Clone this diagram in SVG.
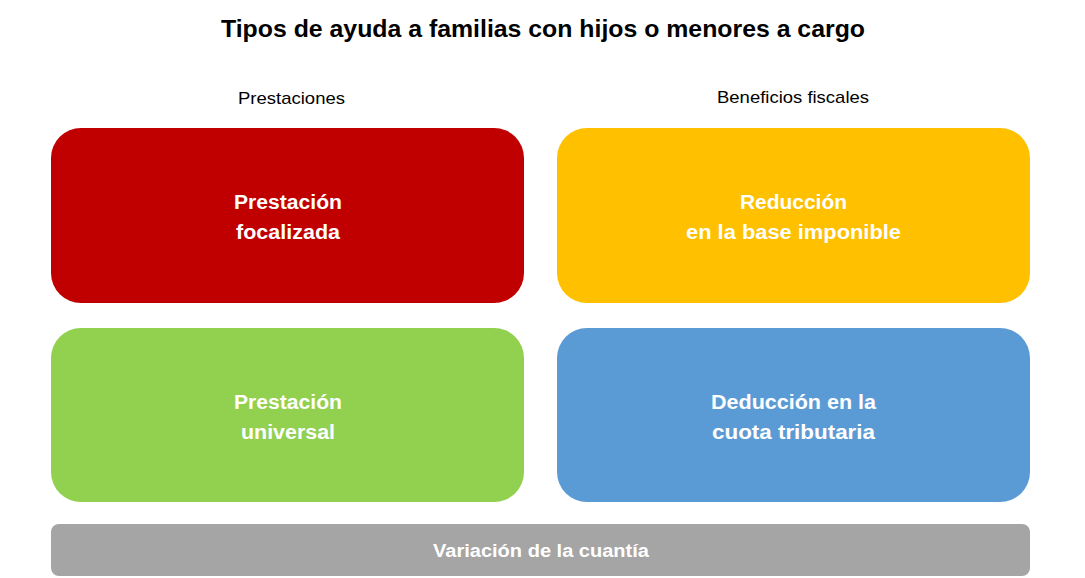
<svg xmlns="http://www.w3.org/2000/svg" width="1085" height="578" viewBox="0 0 1085 578">
<style>
text{font-family:"Liberation Sans","Open Sans",Arial,sans-serif;text-anchor:middle}
.t{font-size:24px;font-weight:bold;fill:#000}
.h{font-size:17px;fill:#000}
.b{font-size:20px;font-weight:bold;fill:#fff}
.g{font-size:18px;font-weight:bold;fill:#fff}
</style>
<rect width="1085" height="578" fill="#fff"/>
<text class="t" x="543" y="37" textLength="644" lengthAdjust="spacingAndGlyphs">Tipos de ayuda a familias con hijos o menores a cargo</text>
<text class="h" x="291.5" y="104" textLength="107" lengthAdjust="spacingAndGlyphs">Prestaciones</text>
<text class="h" x="793" y="103" textLength="152" lengthAdjust="spacingAndGlyphs">Beneficios fiscales</text>
<g id="focalizada">
<rect x="51" y="128" width="473" height="175" rx="30" fill="#c00000"/>
<text class="b" x="288" y="209" textLength="108" lengthAdjust="spacingAndGlyphs">Prestación</text>
<text class="b" x="288" y="239" textLength="104" lengthAdjust="spacingAndGlyphs">focalizada</text>
</g>
<g id="reduccion">
<rect x="557" y="128" width="473" height="175" rx="30" fill="#ffc000"/>
<text class="b" x="793.5" y="209" textLength="107" lengthAdjust="spacingAndGlyphs">Reducción</text>
<text class="b" x="793.5" y="239" textLength="215" lengthAdjust="spacingAndGlyphs">en la base imponible</text>
</g>
<g id="universal">
<rect x="51" y="328" width="473" height="174" rx="30" fill="#92d050"/>
<text class="b" x="288" y="409" textLength="108" lengthAdjust="spacingAndGlyphs">Prestación</text>
<text class="b" x="288" y="439" textLength="94" lengthAdjust="spacingAndGlyphs">universal</text>
</g>
<g id="deduccion">
<rect x="557" y="328" width="473" height="174" rx="30" fill="#5b9bd5"/>
<text class="b" x="793.5" y="409" textLength="165" lengthAdjust="spacingAndGlyphs">Deducción en la</text>
<text class="b" x="793.5" y="439" textLength="163" lengthAdjust="spacingAndGlyphs">cuota tributaria</text>
</g>
<g id="variacion">
<rect x="51" y="524" width="979" height="52" rx="8" fill="#a5a5a5"/>
<text class="g" x="541" y="557" textLength="216" lengthAdjust="spacingAndGlyphs">Variación de la cuantía</text>
</g>
<g id="connectors"/>
</svg>
